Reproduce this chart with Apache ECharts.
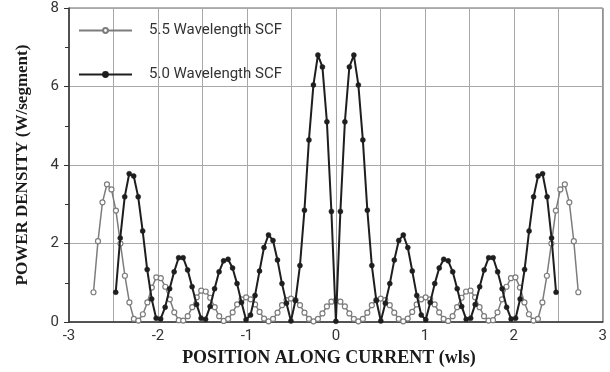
<!DOCTYPE html>
<html>
<head>
<meta charset="utf-8">
<script src="https://cdn.jsdelivr.net/npm/echarts@6/dist/echarts.min.js"></script>
<style>
  html, body { margin: 0; padding: 0; background: #fff; }
  #chart { width: 610px; height: 372px; }
</style>
</head>
<body>
<div id="chart"></div>
<script>
// Power density per segment along a standing-wave current filament.
// Each run is sampled at segment centres of an odd-segment model.
const seriesNames = ['5.5 Wavelength SCF', '5.0 Wavelength SCF'];

// 5.5 wavelength filament: 109 segments
const length55 = 5.5;
const segments55 = 109;
const power55 = [
  0.76, 2.06, 3.05, 3.51, 3.38, 2.84, 2.00, 1.18, 0.50, 0.08, 0.04,
  0.20, 0.50, 0.88, 1.14, 1.12, 0.90, 0.58, 0.25, 0.05,
  0.04, 0.15, 0.38, 0.63, 0.80, 0.78, 0.62, 0.38, 0.15, 0.03,
  0.08, 0.25, 0.45, 0.58, 0.63, 0.58, 0.45, 0.26, 0.09, 0.02,
  0.08, 0.24, 0.43, 0.56, 0.60, 0.56, 0.43, 0.24, 0.08, 0.02,
  0.08, 0.22, 0.40, 0.52,
  0.55,
  0.52, 0.40, 0.22, 0.08,
  0.02, 0.08, 0.24, 0.43, 0.56, 0.60, 0.56, 0.43, 0.24, 0.08,
  0.02, 0.09, 0.26, 0.45, 0.58, 0.63, 0.58, 0.45, 0.25, 0.08,
  0.03, 0.15, 0.38, 0.62, 0.78, 0.80, 0.63, 0.38, 0.15, 0.04,
  0.05, 0.25, 0.58, 0.90, 1.12, 1.14, 0.88, 0.50, 0.20,
  0.04, 0.08, 0.50, 1.18, 2.00, 2.84, 3.38, 3.51, 3.05, 2.06, 0.76
];

// 5.0 wavelength filament: 99 segments
const length50 = 5.0;
const segments50 = 99;
const power50 = [
  0.76, 2.14, 3.19, 3.78, 3.72, 3.19, 2.32, 1.34, 0.59, 0.10, 0.08,
  0.38, 0.85, 1.28, 1.64, 1.64, 1.33, 0.90, 0.45, 0.10,
  0.07, 0.40, 0.85, 1.28, 1.56, 1.60, 1.38, 0.98, 0.50, 0.06,
  0.18, 0.68, 1.30, 1.90, 2.22, 2.08, 1.58, 0.98, 0.48, 0.03,
  0.55, 1.44, 2.85, 4.64, 6.04, 6.80, 6.50, 5.10, 2.82, 0.02,
  2.82, 5.10, 6.50, 6.80, 6.04, 4.64, 2.85, 1.44, 0.55, 0.03,
  0.48, 0.98, 1.58, 2.08, 2.22, 1.90, 1.30, 0.68, 0.18, 0.06,
  0.50, 0.98, 1.38, 1.60, 1.56, 1.28, 0.85, 0.40, 0.07, 0.10,
  0.45, 0.90, 1.33, 1.64, 1.64, 1.28, 0.85, 0.38, 0.08, 0.10,
  0.59, 1.34, 2.32, 3.19, 3.72, 3.78, 3.19, 2.14, 0.76
];

// Axis ranges and ticks
const xTicks = [-3, -2, -1, 0, 1, 2, 3];
const yTicks = [0, 2, 4, 6, 8];

// Pair each value with the centre of its segment (in wavelengths)
function segmentPairs(values, len, n) {
  const step = len / n;
  return values.map((v, i) => [-len / 2 + (i + 0.5) * step, v]);
}

const chart = echarts.init(document.getElementById('chart'), null, { renderer: 'canvas' });

const sansFont = 'Roboto, "Liberation Sans", sans-serif';
const serifFont = '"Liberation Serif", "DejaVu Serif", serif';

chart.setOption({
  animation: false,
  backgroundColor: '#ffffff',
  grid: {
    left: 69, right: 5, top: 8, bottom: 47,
    show: true, borderColor: '#666', borderWidth: 1
  },
  legend: {
    orient: 'vertical',
    left: 78, top: 23, padding: 0,
    itemWidth: 53, itemHeight: 6, itemGap: 29,
    textStyle: { fontFamily: sansFont, fontSize: 15, color: '#333', padding: [0, 0, 0, 12] },
    data: seriesNames
  },
  xAxis: {
    type: 'value',
    min: xTicks[0], max: xTicks[xTicks.length - 1], interval: 1,
    name: 'POSITION ALONG CURRENT (wls)',
    nameLocation: 'middle', nameGap: 24,
    nameTextStyle: { fontFamily: serifFont, fontWeight: 'bold', fontSize: 18, color: '#1a1a1a', padding: [0, 14, 0, 0] },
    axisLine: { onZero: false, lineStyle: { color: '#333', width: 1.5 } },
    axisTick: { show: false },
    axisLabel: { fontFamily: sansFont, fontSize: 15, color: '#333', margin: 7 },
    splitLine: { show: true, lineStyle: { color: '#a8a8a8', width: 1 } },
    minorTick: { show: false, splitNumber: 2 },
    minorSplitLine: { show: true, lineStyle: { color: '#a8a8a8', width: 1 } }
  },
  yAxis: {
    type: 'value',
    min: yTicks[0], max: yTicks[yTicks.length - 1], interval: 2,
    name: 'POWER DENSITY (W/segment)',
    nameLocation: 'middle', nameGap: 38, nameRotate: 90,
    nameTextStyle: { fontFamily: serifFont, fontWeight: 'bold', fontSize: 17, color: '#1a1a1a' },
    axisLine: { show: true, onZero: false, lineStyle: { color: '#333', width: 1.5 } },
    axisTick: { show: true, length: 5, lineStyle: { color: '#333' } },
    minorTick: { show: true, splitNumber: 2, length: 4, lineStyle: { color: '#333' } },
    axisLabel: { fontFamily: sansFont, fontSize: 15, color: '#333', margin: 10 },
    splitLine: { show: true, lineStyle: { color: '#a8a8a8', width: 1 } }
  },
  series: [
    {
      name: seriesNames[0],
      type: 'line',
      data: segmentPairs(power55, length55, segments55),
      symbol: 'circle', symbolSize: 5,
      lineStyle: { color: '#7c7c7c', width: 1.5 },
      itemStyle: { color: '#ffffff', borderColor: '#7c7c7c', borderWidth: 1.2 },
      z: 2
    },
    {
      name: seriesNames[1],
      type: 'line',
      data: segmentPairs(power50, length50, segments50),
      symbol: 'circle', symbolSize: 5,
      lineStyle: { color: '#1e1e1e', width: 2 },
      itemStyle: { color: '#1e1e1e', borderColor: '#1e1e1e', borderWidth: 0.5 },
      z: 3
    }
  ]
});
</script>
</body>
</html>
